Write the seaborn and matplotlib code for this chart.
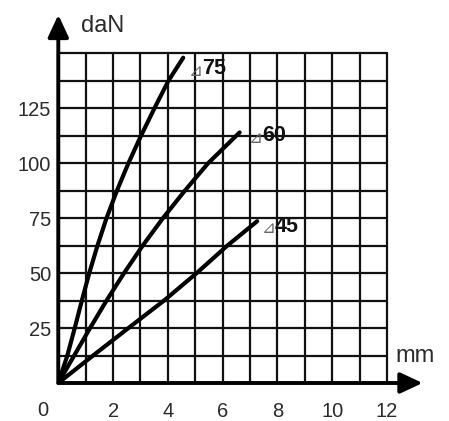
import matplotlib
matplotlib.use("Agg")
import matplotlib.pyplot as plt
import seaborn as sns
import pandas as pd

# Load-deflection curves (displacement in mm, force in daN)
d75_mm = [0, 0.33, 0.60, 0.86, 1.13, 1.43, 1.76, 2.14, 2.56, 3.02, 3.51, 4.02, 4.56]
d75_dan = [0, 12.5, 25, 37.5, 50, 62.5, 75, 87.5, 100, 112.5, 125, 137.5, 148]
d60_mm = [0, 0.58, 1.16, 1.76, 2.40, 3.08, 3.82, 4.62, 5.47, 6.62]
d60_dan = [0, 12.5, 25, 37.5, 50, 62.5, 75, 87.5, 100, 114]
d45_mm = [0, 1.27, 2.56, 3.86, 5.05, 6.17, 7.26]
d45_dan = [0, 12.5, 25, 37.5, 50, 62.5, 73.6]
curve_names = ["75", "60", "45"]

x_ticks = list(range(0, 13))
x_labels = ["", "", "2", "", "4", "", "6", "", "8", "", "10", "", "12"]
y_ticks = [i * 12.5 for i in range(13)]
y_labels = ["", "", "25", "", "50", "", "75", "", "100", "", "125", "", ""]

frames = []
for name, xs, ys in zip(curve_names,
                        [d75_mm, d60_mm, d45_mm],
                        [d75_dan, d60_dan, d45_dan]):
    frames.append(pd.DataFrame({"mm": xs, "daN": ys, "curve": name}))
df = pd.concat(frames, ignore_index=True)

sns.set_style("white")
plt.rcParams["font.family"] = ["Liberation Sans", "DejaVu Sans"]

W, H = 449, 421
fig = plt.figure(figsize=(W / 100, H / 100), dpi=100)
x0, x1, y0, y1 = 58.3, 387.0, 383.0, 53.3
ax = fig.add_axes([x0 / W, 1 - y0 / H, (x1 - x0) / W, (y0 - y1) / H])

sns.lineplot(data=df, x="mm", y="daN", hue="curve", units="curve",
             estimator=None, sort=False, palette=["black"] * 3,
             linewidth=3.0, legend=False, ax=ax, zorder=5)
for ln in ax.get_lines():
    ln.set_solid_joinstyle("round")
    ln.set_solid_capstyle("round")

ax.set_xlim(0, 12)
ax.set_ylim(0, 150)
ax.set_xticks(x_ticks)
ax.set_xticklabels(x_labels)
ax.set_yticks(y_ticks)
ax.set_yticklabels(y_labels)
ax.set_xlabel("")
ax.set_ylabel("")
ax.tick_params(axis="both", length=0, labelsize=14.5, colors="#2b2b2b")
ax.tick_params(axis="x", pad=14)
ax.tick_params(axis="y", pad=5)
ax.grid(True, color="#111111", linewidth=1.6)
for gl in ax.get_xgridlines() + ax.get_ygridlines():
    gl.set_clip_on(False)
for s in ax.spines.values():
    s.set_visible(False)

# Axes with arrow heads
arrow = dict(arrowstyle="-|>,head_length=0.9,head_width=0.42",
             color="black", lw=2.8, mutation_scale=15, shrinkA=0, shrinkB=0)
ax.annotate("", xy=(13.3, 0), xytext=(0, 0), arrowprops=arrow,
            annotation_clip=False, zorder=6)
ax.annotate("", xy=(0, 167.5), xytext=(0, 0), arrowprops=arrow,
            annotation_clip=False, zorder=6)

ax.text(-0.56, -12.5, "0", fontsize=14.5, color="#2b2b2b",
        ha="center", va="center", clip_on=False)
ax.text(1.63, 162.5, "daN", fontsize=17, color="#2b2b2b",
        ha="center", va="center", clip_on=False)
ax.text(13.02, 12.3, "mm", fontsize=17, color="#2b2b2b",
        ha="center", va="center", clip_on=False)

# Curve tags
tag_pos = {"75": (5.25, 143.0), "60": (7.43, 112.5), "45": (7.91, 71.3)}
for name in curve_names:
    tx, ty = tag_pos[name]
    ax.text(tx + 0.02, ty - 1.0, "\u22bf", fontsize=12, color="#666666",
            ha="right", va="center", family=["DejaVu Sans"], zorder=7,
            clip_on=False)
    ax.text(tx, ty, name, fontsize=15.5, fontweight="bold", color="#111111",
            ha="left", va="center", zorder=7, clip_on=False)

fig.savefig("out.png", dpi=100)
